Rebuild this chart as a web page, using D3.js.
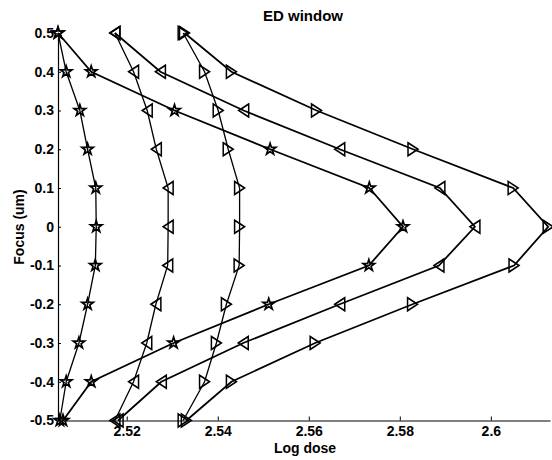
<!DOCTYPE html>
<html>
<head>
<meta charset="utf-8">
<script src="https://cdn.jsdelivr.net/npm/d3@7"></script>
<style>
body{margin:0;background:#fff}
text{font-family:"Liberation Sans",Arial,sans-serif;font-weight:bold;fill:#000}
</style>
</head>
<body>
<svg width="552" height="460"></svg>
<script>
// focus values (um), one per point of every curve
var focus = [0.5,0.4,0.3,0.2,0.1,0,-0.1,-0.2,-0.3,-0.4,-0.5]
// log dose per curve
var starInner = [2.5049,2.5067,2.5097,2.5114,2.5132,2.5133,2.5131,2.5114,2.5095,2.5067,2.5053]
var starOuter = [2.5049,2.5122,2.5305,2.5515,2.5733,2.5807,2.5732,2.5512,2.5303,2.5122,2.5060]
var leftInner = [2.5174,2.5215,2.5245,2.5265,2.5291,2.5291,2.5290,2.5264,2.5244,2.5215,2.5174]
var leftOuter = [2.5174,2.5274,2.5457,2.5668,2.5888,2.5965,2.5886,2.5668,2.5456,2.5276,2.5181]
var rightInner = [2.5324,2.5371,2.5401,2.5423,2.5448,2.5448,2.5447,2.5419,2.5397,2.5371,2.5324]
var rightOuter = [2.5327,2.5430,2.5617,2.5829,2.6049,2.6126,2.6051,2.5828,2.5614,2.5430,2.5331]
var xTicks = [2.52,2.54,2.56,2.58,2.6]
var xTickLabels = ['2.52','2.54','2.56','2.58','2.6']
var yTicks = [0.5,0.4,0.3,0.2,0.1,0,-0.1,-0.2,-0.3,-0.4,-0.5]

var series = [
  {vals: starInner, mark: 'star', w: 1.3},
  {vals: starOuter, mark: 'star', w: 1.8},
  {vals: leftInner, mark: 'left', w: 1.3},
  {vals: leftOuter, mark: 'left', w: 1.8},
  {vals: rightInner, mark: 'right', w: 1.3},
  {vals: rightOuter, mark: 'right', w: 1.8}
]

var svg = d3.select('svg')
var x = d3.scaleLinear().domain([2.5049, 2.6130]).range([58, 550])
var y = d3.scaleLinear().domain([-0.5, 0.5]).range([420.5, 33])

// axes (left + bottom only, ticks pointing in)
svg.append('g').attr('transform','translate(0,420.5)')
  .call(d3.axisBottom(x).tickValues(xTicks).tickFormat(function(d,i){return xTickLabels[i]}).tickSizeInner(-4).tickSizeOuter(0).tickPadding(6))
svg.append('g').attr('transform','translate(58,0)')
  .call(d3.axisLeft(y).tickValues(yTicks).tickFormat(function(d){return d===0 ? '0' : d.toFixed(1)}).tickSizeInner(-3).tickSizeOuter(0).tickPadding(4))
svg.selectAll('.domain').attr('stroke','#000').attr('stroke-width',1.2)
svg.selectAll('.tick line').attr('stroke','#000').attr('stroke-width',1)
svg.selectAll('.tick text').style('font-size','14px').style('font-family','"Liberation Sans",Arial,sans-serif').style('font-weight','bold').attr('fill','#000')

var line = d3.line().x(function(d){return x(d[0])}).y(function(d){return y(d[1])})
var star = d3.symbol().type(d3.symbolStar).size(40)

series.forEach(function(s){
  var pts = s.vals.map(function(v,i){return [v, focus[i]]})
  svg.append('path').datum(pts).attr('d',line).attr('fill','none').attr('stroke','#000').attr('stroke-width',s.w)
  var m = svg.append('g').selectAll('path').data(pts).enter().append('path')
    .attr('transform',function(d){return 'translate('+x(d[0])+','+y(d[1])+')'})
    .attr('fill','none').attr('stroke','#000').attr('stroke-width',s.mark==='star' ? 1.7 : 1.5)
  if(s.mark==='star') m.attr('d',star)
  else if(s.mark==='left') m.attr('d','M-5,0L5,-6.5L5,6.5Z')
  else m.attr('d','M5,0L-5,-6.5L-5,6.5Z')
})

svg.append('text').attr('x',303).attr('y',21).attr('text-anchor','middle').style('font-size','15px').text('ED window')
svg.append('text').attr('x',305).attr('y',453).attr('text-anchor','middle').style('font-size','14px').text('Log dose')
svg.append('text').attr('transform','translate(24,227) rotate(-90)').attr('text-anchor','middle').style('font-size','14px').text('Focus (um)')
</script>
</body>
</html>
